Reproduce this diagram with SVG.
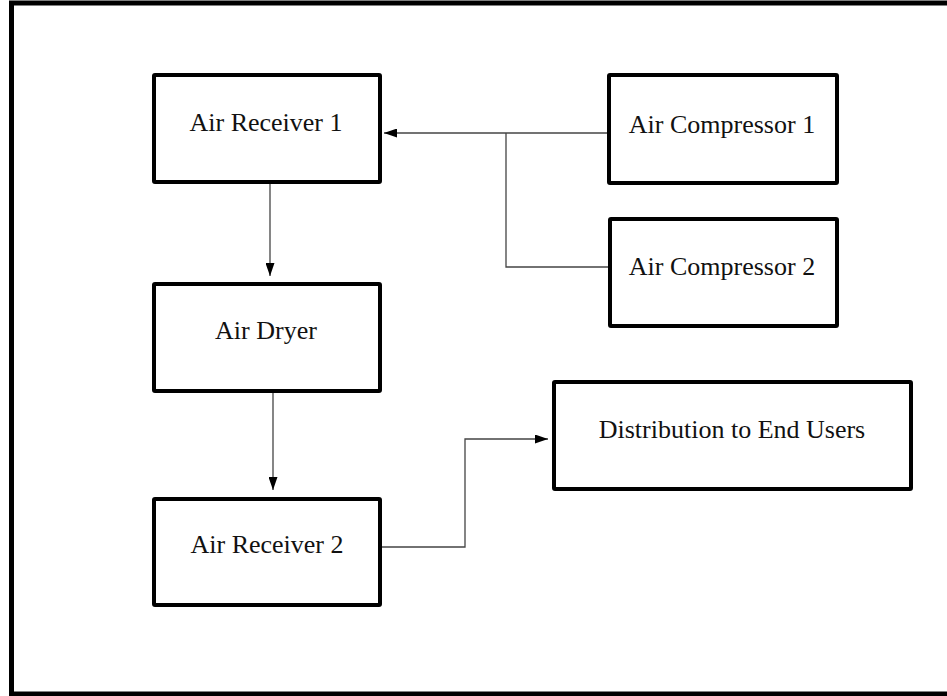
<svg xmlns="http://www.w3.org/2000/svg" width="947" height="696" viewBox="0 0 947 696">
  <style>
    .frame { fill: #ffffff; stroke: #000000; stroke-width: 5; }
    .box { fill: #ffffff; stroke: #000000; stroke-width: 4; }
    .label { font-family: "Liberation Serif", "Times New Roman", serif; font-size: 26px; fill: #111111; text-anchor: middle; }
    .wire { fill: none; stroke: #444444; stroke-width: 1.3; }
  </style>
  <defs>
    <marker id="arrow" viewBox="0 0 13 9" refX="13" refY="4.5" markerWidth="13" markerHeight="9" markerUnits="userSpaceOnUse" orient="auto">
      <path d="M0,0 L13,4.5 L0,9 Z" fill="#000000"/>
    </marker>
  </defs>

  <!-- outer frame -->
  <rect class="frame" x="11.5" y="3" width="945" height="691"/>

  <!-- nodes -->
  <g id="air-receiver-1">
    <rect class="box" x="154" y="75" width="226" height="107" rx="1"/>
    <text class="label" x="266" y="131">Air Receiver 1</text>
  </g>
  <g id="air-compressor-1">
    <rect class="box" x="609" y="75" width="228" height="108" rx="1"/>
    <text class="label" x="722" y="133">Air Compressor 1</text>
  </g>
  <g id="air-compressor-2">
    <rect class="box" x="610" y="219" width="227" height="107" rx="1"/>
    <text class="label" x="722" y="275">Air Compressor 2</text>
  </g>
  <g id="air-dryer">
    <rect class="box" x="154" y="284" width="226" height="107" rx="1"/>
    <text class="label" x="266" y="339">Air Dryer</text>
  </g>
  <g id="air-receiver-2">
    <rect class="box" x="154" y="499" width="226" height="106" rx="1"/>
    <text class="label" x="267" y="553">Air Receiver 2</text>
  </g>
  <g id="distribution">
    <rect class="box" x="554" y="382" width="357" height="107" rx="1"/>
    <text class="label" x="732" y="438">Distribution to End Users</text>
  </g>

  <!-- connectors -->
  <g id="connectors">
    <path class="wire" d="M607,133 L384,133" marker-end="url(#arrow)"/>
    <path class="wire" d="M608,267 L506,267 L506,133"/>
    <path class="wire" d="M270,184 L270,276" marker-end="url(#arrow)"/>
    <path class="wire" d="M273,393 L273,490" marker-end="url(#arrow)"/>
    <path class="wire" d="M382,547 L465,547 L465,439 L548,439" marker-end="url(#arrow)"/>
  </g>
</svg>
